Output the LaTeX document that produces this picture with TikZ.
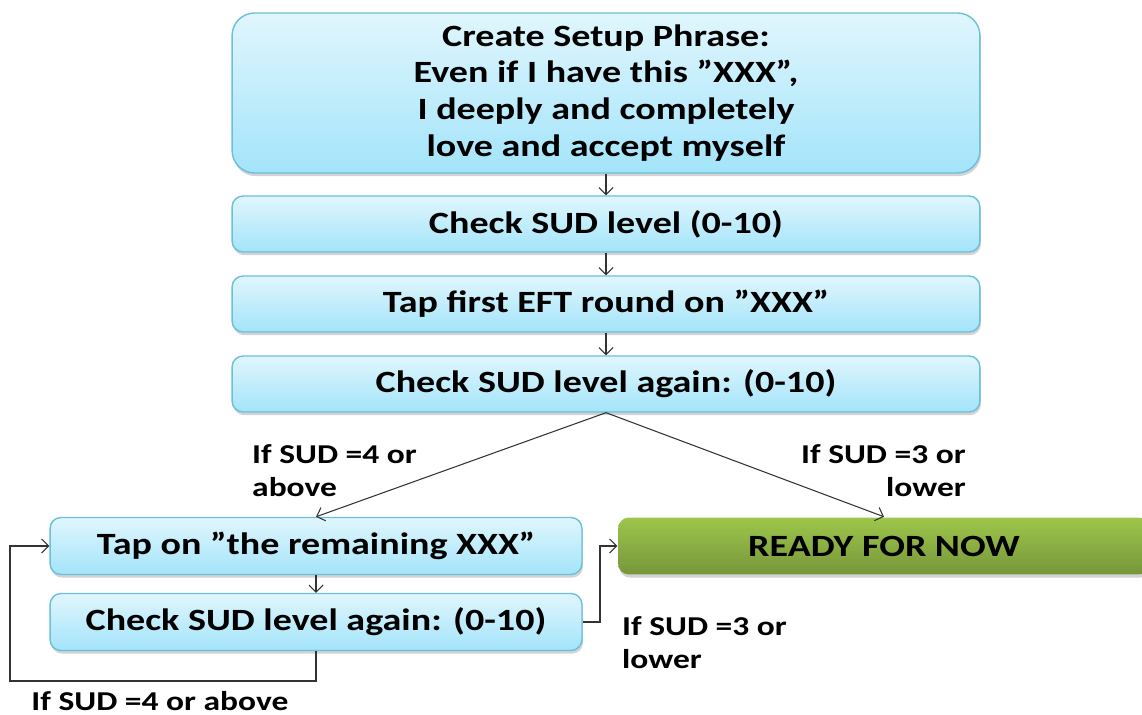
\documentclass[tikz,border=0pt]{standalone}
\usepackage{fontspec}
\setmainfont{Carlito}[FakeStretch=1.23]
\usetikzlibrary{arrows.meta,shadows}

\definecolor{boxtop}{HTML}{E0F6FD}
\definecolor{boxbot}{HTML}{A3E4FA}
\definecolor{boxline}{HTML}{6BBFDC}
\definecolor{greentop}{HTML}{9EC64B}
\definecolor{greenbot}{HTML}{76963A}

\begin{document}
\begin{tikzpicture}[x=0.02cm, y=-0.02cm,
	stepbox/.style={draw=boxline, line width=0.8pt, rounded corners=0.22cm,
		top color=boxtop, bottom color=boxbot, minimum width=14.96cm, minimum height=1.12cm,
		font=\fontsize{17.6}{21}\selectfont\bfseries, align=center,
		drop shadow={shadow xshift=0.6pt, shadow yshift=-1.8pt, opacity=0.35, fill=gray}},
	loopbox/.style={stepbox, minimum width=10.64cm, minimum height=1.14cm},
	readybox/.style={loopbox, draw=none, top color=greentop, bottom color=greenbot},
	cond/.style={font=\fontsize{15.5}{18.7}\selectfont\bfseries},
	flow/.style={line width=0.6pt, draw=black!80, -{Straight Barb[length=4pt,width=8pt]}}]

	\useasboundingbox (0,0) rectangle (1142,715);

	\node[stepbox, minimum height=3.2cm, rounded corners=0.45cm] (setup) at (606,93)
		{Create Setup Phrase:\\Even if I have this ”XXX”,\\I deeply and completely\\love and accept myself};
	\node[stepbox] (sud1) at (606,224) {Check SUD level (0-10)};
	\node[stepbox] (tap1) at (606,304) {Tap first EFT round on ”XXX”};
	\node[stepbox] (sud2) at (606,384) {Check SUD level again: (0-10)};

	\node[loopbox] (tap2) at (316,546) {Tap on ”the remaining XXX”};
	\node[loopbox] (sud3) at (316,622) {Check SUD level again: (0-10)};
	\node[readybox] (ready) at (884,546) {READY FOR NOW};

	% labels of the branches
	\node[cond, align=left, anchor=west] (high) at (246,471) {If SUD =4 or\\above};
	\node[cond, align=right, anchor=east] (low) at (972,471) {If SUD =3 or\\lower};
	\node[cond, align=left, anchor=west] (low2) at (616,643) {If SUD =3 or\\lower};
	\node[cond, anchor=base] (high2) at (160,710) {If SUD =4 or above};

	\coordinate (jog) at (600,622);
	\coordinate (back) at (10,681);

	% Draw the connections
	\draw[flow] (setup) -- (sud1);
	\draw[flow] (sud1) -- (tap1);
	\draw[flow] (tap1) -- (sud2);
	\draw[flow] (sud2.south) -- (tap2.north);
	\draw[flow] (sud2.south) -- (ready.north);
	\draw[flow] (tap2) -- (sud3);
	\draw[flow] (sud3.east) -- (jog) |- (ready.west);
	\draw[flow] (sud3.south) |- (back) |- (tap2.west);
\end{tikzpicture}
\end{document}
